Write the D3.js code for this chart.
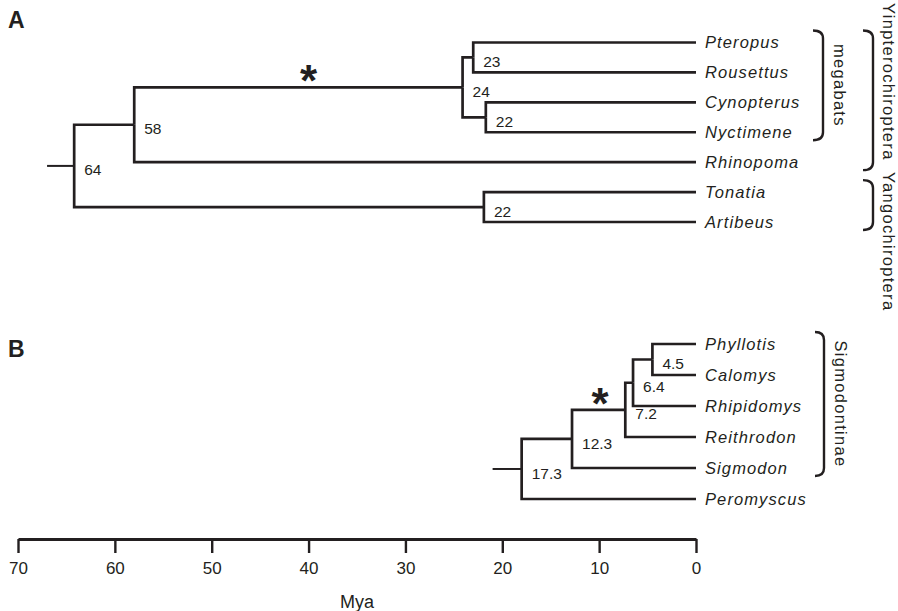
<!DOCTYPE html>
<html lang="en">
  <head>
    <meta charset="utf-8">
    <script src="https://d3js.org/d3.v7.min.js"></script>
    <style>
      body { margin: 0; background: #fff; }
      svg { display: block; font-family: "Liberation Sans", Arial, sans-serif; }
      .branch { fill: none; stroke: #231f20; stroke-width: 2.7; }
      .stem { stroke-width: 2; }
      .tip { font-size: 16.5px; font-style: italic; letter-spacing: 1.1px; fill: #231f20; }
      .age { font-size: 15.5px; fill: #231f20; }
      .bracket { fill: none; stroke: #231f20; stroke-width: 2.4; }
      .group { font-size: 16.5px; letter-spacing: 1.3px; fill: #231f20; }
      .panel { font-size: 23px; font-weight: bold; fill: #231f20; }
      .star { font-size: 44px; font-weight: bold; fill: #231f20; }
    </style>
  </head>
  <body>
    <svg id="chart" width="898" height="611"></svg>
  </body>
</html>

<script>
    // node rows: [id, parent, age in Mya as drawn]
    const treeA = [
        ["rootA", null, 67.0],
        ["n64", "rootA", 64.2],
        ["n58", "n64", 58.0],
        ["n24", "n58", 24.1],
        ["n23", "n24", 23.0],
        ["Pteropus", "n23", 0],
        ["Rousettus", "n23", 0],
        ["n22a", "n24", 21.7],
        ["Cynopterus", "n22a", 0],
        ["Nyctimene", "n22a", 0],
        ["Rhinopoma", "n58", 0],
        ["n22b", "n64", 21.9],
        ["Tonatia", "n22b", 0],
        ["Artibeus", "n22b", 0]
    ];
    const tipsA = ["Pteropus", "Rousettus", "Cynopterus", "Nyctimene", "Rhinopoma", "Tonatia", "Artibeus"];
    const nodeLabelsA = [["n64", "64"], ["n58", "58"], ["n24", "24"], ["n23", "23"], ["n22a", "22"], ["n22b", "22"]];

    const treeB = [
        ["rootB", null, 21.0],
        ["n173", "rootB", 18.0],
        ["n123", "n173", 12.8],
        ["n72", "n123", 7.3],
        ["n64b", "n72", 6.5],
        ["n45", "n64b", 4.5],
        ["Phyllotis", "n45", 0],
        ["Calomys", "n45", 0],
        ["Rhipidomys", "n64b", 0],
        ["Reithrodon", "n72", 0],
        ["Sigmodon", "n123", 0],
        ["Peromyscus", "n173", 0]
    ];
    const tipsB = ["Phyllotis", "Calomys", "Rhipidomys", "Reithrodon", "Sigmodon", "Peromyscus"];
    const nodeLabelsB = [["n173", "17.3"], ["n123", "12.3"], ["n72", "7.2"], ["n64b", "6.4"], ["n45", "4.5"]];

    // asterisks: [node whose stem carries it, age]
    const starsA = [["n24", 40]];
    const starsB = [["n72", 9.9]];

    // brackets: [label, first tip, last tip]
    const innerGroupsA = [["megabats", "Pteropus", "Nyctimene"]];
    const outerGroupsA = [["Yinpterochiroptera", "Pteropus", "Rhinopoma"], ["Yangochiroptera", "Tonatia", "Artibeus"]];
    const innerGroupsB = [["Sigmodontinae", "Phyllotis", "Sigmodon"]];

    const axisTicks = [70, 60, 50, 40, 30, 20, 10, 0];

    const svg = d3.select("#chart");
    const x = d3.scaleLinear().domain([70, 0]).range([18, 696]);

    function drawTree(rows, tips, yRange, labels, stars) {
        const y = d3.scalePoint().domain(tips).range(yRange);
        const root = d3.stratify().id(d => d[0]).parentId(d => d[1])(rows);
        root.eachAfter(n => {
            n.px = x(n.data[2]);
            n.py = n.children
                ? (n.children[0].py + n.children[n.children.length - 1].py) / 2
                : y(n.id);
        });

        const g = svg.append("g");
        g.selectAll("path.branch")
            .data(root.descendants().filter(n => n.parent))
            .enter().append("path")
            .attr("class", n => n.parent.parent ? "branch" : "branch stem")
            .attr("d", n => `M${n.parent.px},${n.parent.py}V${n.py}H${n.px}`);

        g.selectAll("text.tip")
            .data(root.leaves())
            .enter().append("text")
            .attr("class", "tip")
            .attr("x", n => n.px + 9)
            .attr("y", n => n.py)
            .attr("dy", "0.36em")
            .text(n => n.id);

        const byId = new Map(root.descendants().map(n => [n.id, n]));
        g.selectAll("text.age")
            .data(labels)
            .enter().append("text")
            .attr("class", "age")
            .attr("x", d => byId.get(d[0]).px + 10)
            .attr("y", d => byId.get(d[0]).py + 4)
            .attr("dy", "0.36em")
            .text(d => d[1]);

        g.selectAll("text.star")
            .data(stars)
            .enter().append("text")
            .attr("class", "star")
            .attr("text-anchor", "middle")
            .attr("x", d => x(d[1]))
            .attr("y", d => byId.get(d[0]).py + 9)
            .text("*");

        return y;
    }

    function bracketPath(x0, x1, y0, y1) {
        const r = 8;
        return `M${x0},${y0}Q${x1},${y0} ${x1},${y0 + r}V${y1 - r}Q${x1},${y1} ${x0},${y1}`;
    }

    function drawGroups(groups, y, x0, x1, tx, fixedStart) {
        const g = svg.append("g");
        groups.forEach((d, i) => {
            const y0 = y(d[1]) - 12, y1 = y(d[2]) + 8;
            g.append("path").attr("class", "bracket").attr("d", bracketPath(x0, x1, y0, y1));
            const t = g.append("text").attr("class", "group")
                .attr("dominant-baseline", "central")
                .text(d[0]);
            if (fixedStart) {
                t.attr("text-anchor", "start")
                    .attr("transform", `translate(${tx},${fixedStart[i]}) rotate(90)`);
            } else {
                t.attr("text-anchor", "middle")
                    .attr("transform", `translate(${tx},${(y0 + y1) / 2}) rotate(90)`);
            }
        });
    }

    const yA = drawTree(treeA, tipsA, [42.5, 222], nodeLabelsA, starsA);
    const yB = drawTree(treeB, tipsB, [344, 499], nodeLabelsB, starsB);

    drawGroups(innerGroupsA, yA, 813, 823, 840);
    drawGroups(outerGroupsA, yA, 863, 873, 889, [3, 172]);
    drawGroups(innerGroupsB, yB, 815, 824, 841);

    svg.append("text").attr("class", "panel").attr("x", 8).attr("y", 28).text("A");
    svg.append("text").attr("class", "panel").attr("x", 8).attr("y", 357).text("B");

    // time axis
    const axis = svg.append("g")
        .attr("transform", "translate(0,539)")
        .call(d3.axisBottom(x).tickValues(axisTicks).tickSize(14).tickSizeOuter(0).tickPadding(9));
    axis.select(".domain").attr("stroke", "#231f20").attr("stroke-width", 3);
    axis.selectAll(".tick line").attr("stroke", "#231f20").attr("stroke-width", 2.4);
    axis.selectAll(".tick text")
        .attr("fill", "#231f20")
        .style("font-size", "17px")
        .style("font-family", "\"Liberation Sans\", Arial, sans-serif");

    svg.append("text")
        .attr("x", x(35))
        .attr("y", 608)
        .attr("text-anchor", "middle")
        .style("font-size", "18px")
        .attr("fill", "#231f20")
        .text("Mya");
</script>
